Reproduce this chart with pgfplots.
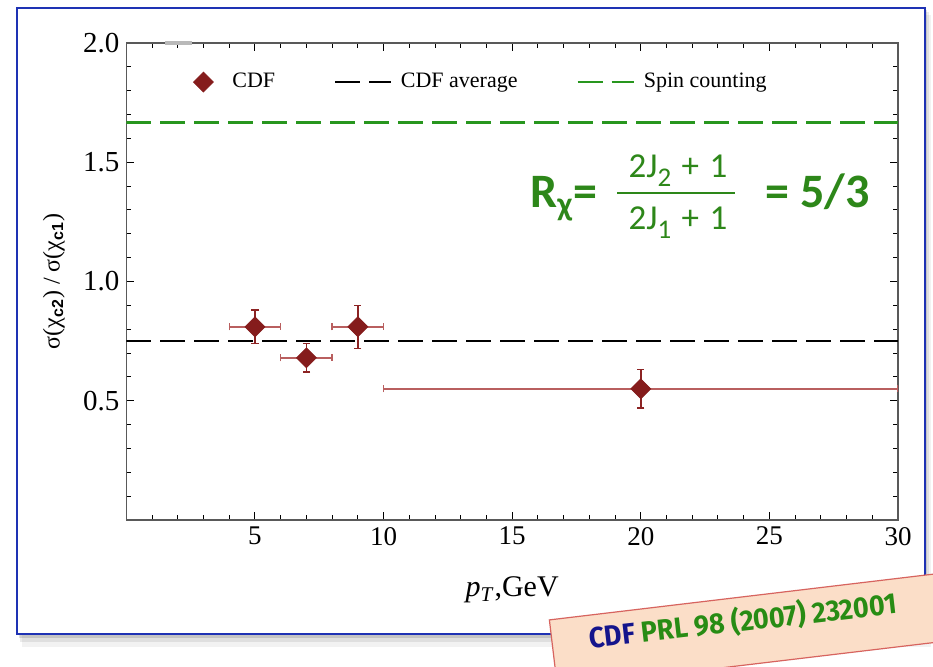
\documentclass[border=0pt]{standalone}
\usepackage{fontspec}
\setmainfont{Liberation Serif}
\setsansfont{Liberation Sans}
\newfontfamily\calibri{Carlito}
\newfontfamily\stampfont{Fira Sans}
\usepackage{graphicx}
\usepackage{pgfplots}
\pgfplotsset{compat=1.18}
\usepackage{pgfplotstable}

\definecolor{mred}{RGB}{133,28,28}
\definecolor{errdark}{RGB}{140,35,35}
\definecolor{errlight}{RGB}{185,95,95}
\definecolor{spingreen}{RGB}{40,150,30}
\definecolor{fgreen}{RGB}{45,135,25}
\definecolor{framecol}{RGB}{30,50,180}
\definecolor{stampfill}{RGB}{251,222,200}
\definecolor{stampborder}{RGB}{215,100,95}
\definecolor{cdfblue}{RGB}{20,20,140}
\definecolor{prlgreen}{RGB}{40,140,20}

\pgfplotsset{
  linelegend/.style={legend image code/.code={\draw[##1] (0pt,0pt) -- (28pt,0pt);}},
  marklegend/.style={legend image code/.code={\path[draw=none,fill=none] (0pt,-3pt) rectangle (24pt,3pt);\draw[mark repeat=2,mark phase=2,##1] plot coordinates {(0pt,0pt) (14pt,0pt) (28pt,0pt)};}},
}

\pgfplotstableread{
x y ex ey
5 0.81 1 0.07
7 0.68 1 0.06
9 0.81 1 0.09
20 0.55 10 0.08
}\cdfdata

\newcommand{\fsub}[1]{\raisebox{-4.2pt}{\fontsize{13.5}{14}\selectfont #1}}

\begin{document}
\begin{tikzpicture}
\useasboundingbox (0pt,0pt) rectangle (466.5pt,-333.5pt);
\begin{scope}[x=0.5pt,y=-0.5pt]
  \fill[black,opacity=0.05] (22,15) rectangle (931,647);
  \fill[black,opacity=0.08] (20,12) rectangle (929,642);
  \fill[black,opacity=0.12] (19,10) rectangle (927,638);
  \draw[framecol, line width=1.2pt, fill=white] (17,8) rectangle (925,634);
\end{scope}

\begin{axis}[
  at={(63.2pt,-260pt)}, anchor=south west,
  scale only axis, width=385.8pt, height=238.5pt,
  xmin=0, xmax=30, ymin=0, ymax=2,
  xtick={5,10,15,20,25,30},
  minor xtick={1,2,3,4,6,7,8,9,11,12,13,14,16,17,18,19,21,22,23,24,26,27,28,29},
  ytick={0.5,1.0,1.5,2.0},
  minor ytick={0.1,0.2,0.3,0.4,0.6,0.7,0.8,0.9,1.1,1.2,1.3,1.4,1.6,1.7,1.8,1.9},
  yticklabel style={font=\fontsize{14.5}{15}\selectfont, /pgf/number format/fixed, /pgf/number format/fixed zerofill, /pgf/number format/precision=1},
  /pgf/number format/assume math mode=true,
  xticklabel style={font=\fontsize{13.5}{14}\selectfont},
  tick align=inside,
  major tick length=4pt, minor tick length=2.5pt,
  every tick/.style={black, line width=0.5pt},
  axis line style={draw=gray!70!black, line width=0.8pt},
  xlabel={\textit{p}\textsubscript{\textit{T}},GeV},
  xlabel style={font=\fontsize{15}{16}\selectfont, at={(axis description cs:0.5,-0.147)}, anchor=center},
  ylabel={σ(χ\textsubscript{\sffamily\bfseries c2}) / σ(χ\textsubscript{\sffamily\bfseries c1})},
  ylabel style={font=\fontsize{12}{13}\selectfont, at={(axis description cs:-0.094,0.5)}, anchor=center},
  legend columns=3,
  legend cell align=left,
  legend style={draw=none, fill=none, font=\fontsize{11}{13}\selectfont,
    at={(0.063,0.918)}, anchor=west, inner sep=0pt,
    /tikz/every odd column/.append style={column sep=2.5pt},
    /tikz/every even column/.append style={column sep=27.5pt}},
]
% horizontal error bars (lighter)
\addplot[forget plot, only marks, mark=none,
  error bars/.cd, x dir=both, x explicit,
  error bar style={line width=0.7pt, errlight},
  error mark options={rotate=90, line width=0.7pt, errlight, mark size=1.8pt}]
  table[x=x, y=y, x error=ex]{\cdfdata};
% vertical error bars (darker)
\addplot[forget plot, only marks, mark=none,
  error bars/.cd, y dir=both, y explicit,
  error bar style={line width=0.7pt, errdark},
  error mark options={rotate=90, line width=0.7pt, errdark, mark size=1.8pt}]
  table[x=x, y=y, y error=ey]{\cdfdata};
% points
\addplot[only marks, mark=square*, mark size=3.5pt, mark options={rotate=45, fill=mred, draw=mred}, marklegend]
  table[x=x, y=y]{\cdfdata};
\addlegendentry{CDF}
\addplot[black, line width=0.85pt, dash pattern=on 12.5pt off 4.5pt, linelegend]
  coordinates {(0,0.75) (30,0.75)};
\addlegendentry{CDF average}
\addplot[spingreen, line width=1.1pt, dash pattern=on 12.5pt off 4.5pt, linelegend]
  coordinates {(0,1.6667) (30,1.6667)};
\addlegendentry{Spin counting}
\end{axis}

\begin{scope}[x=0.5pt,y=-0.5pt]
  % artifact near top axis
  \draw[gray!55, line width=1.6pt] (165,43) -- (192,43);
  % formula
  \node[anchor=base west, inner sep=0pt, text=fgreen, font=\calibri\bfseries\fontsize{24}{25}\selectfont]
    at (530,208) {R\textsubscript{χ}=};
  \node[anchor=base, inner sep=0pt, text=fgreen, font=\calibri\fontsize{17.5}{18}\selectfont]
    at (678,178) {2J\fsub{2}\hspace{0.3em}+\hspace{0.3em}1};
  \draw[fgreen, line width=1.4pt] (617,193) -- (735,193);
  \node[anchor=base, inner sep=0pt, text=fgreen, font=\calibri\fontsize{17.5}{18}\selectfont]
    at (678,230) {2J\fsub{1}\hspace{0.3em}+\hspace{0.3em}1};
  \node[anchor=base west, inner sep=0pt, text=fgreen, font=\calibri\bfseries\fontsize{24}{25}\selectfont]
    at (765,208) {= 5/3};
  % stamp
  \node[rotate=6.8, fill=stampfill, draw=stampborder, line width=0.6pt,
    minimum width=200pt, minimum height=34pt, inner sep=0pt] at (752,630) {};
  \node[rotate=6.5, inner sep=0pt, font=\stampfont\bfseries\fontsize{14.5}{15}\selectfont] at (743,621)
    {\scalebox{0.93}[1]{\color{cdfblue}CDF \color{prlgreen}PRL 98 (2007) 232001}};
\end{scope}
\end{tikzpicture}
\end{document}
